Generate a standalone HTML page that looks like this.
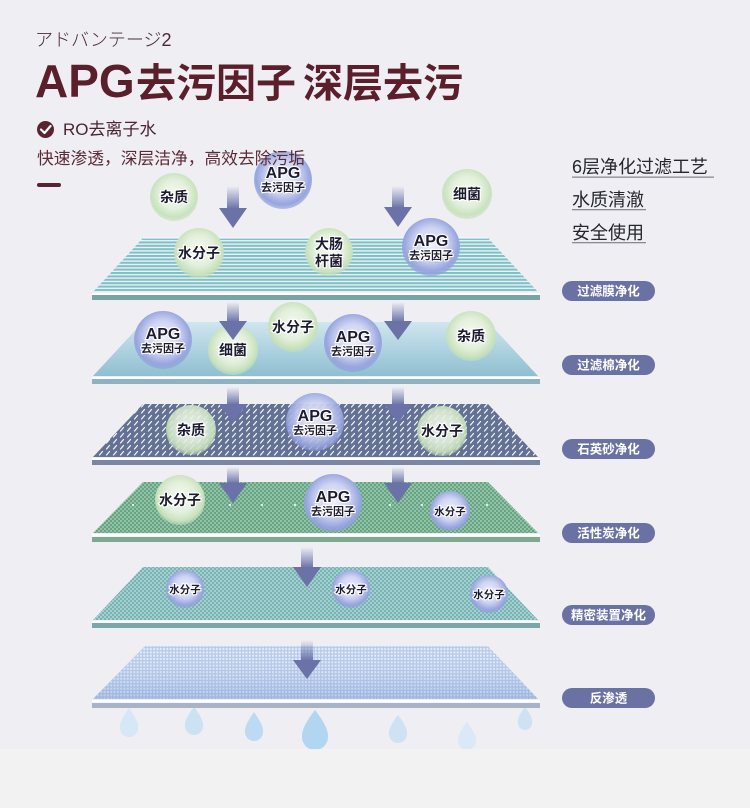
<!DOCTYPE html>
<html><head><meta charset="utf-8"><style>
html,body{margin:0;padding:0;background:#eeeef3;}
svg{display:block;}
</style></head><body>
<svg width="750" height="808" viewBox="0 0 750 808" xmlns="http://www.w3.org/2000/svg">
<defs>
<pattern id="p1" width="8" height="3.4" patternUnits="userSpaceOnUse" y="238"><rect width="8" height="3.4" fill="#e6f3f4"/><rect width="8" height="2" fill="#80bfc6"/></pattern>
<linearGradient id="g2" x1="0" y1="0" x2="0" y2="1"><stop offset="0" stop-color="#cfe6ee"/><stop offset="1" stop-color="#8fbfd1"/></linearGradient>
<pattern id="p3" width="7" height="6" patternUnits="userSpaceOnUse"><rect width="7" height="6" fill="#637194"/><line x1="1.5" y1="5" x2="4.5" y2="1.5" stroke="#f4f6fa" stroke-width="1.2" stroke-linecap="round"/></pattern>
<pattern id="p4" width="4" height="4" patternUnits="userSpaceOnUse"><rect width="4" height="4" fill="#68a383"/><rect width="2" height="2" fill="#90c2a6"/><rect x="2" y="2" width="2" height="2" fill="#90c2a6"/></pattern>
<pattern id="p5" width="4" height="4" patternUnits="userSpaceOnUse"><rect width="4" height="4" fill="#79b3b4"/><rect width="2" height="2" fill="#a3cfcf"/><rect x="2" y="2" width="2" height="2" fill="#a3cfcf"/></pattern>
<pattern id="p6" width="3.3" height="3.3" patternUnits="userSpaceOnUse"><rect width="3.3" height="3.3" fill="#e2ebf8"/><rect width="3.3" height="1.3" fill="#a9c0e6"/><rect width="1.3" height="3.3" fill="#a9c0e6"/></pattern>
<linearGradient id="sh6" x1="0" y1="0" x2="0" y2="1"><stop offset="0" stop-color="#ffffff" stop-opacity="0.15"/><stop offset="1" stop-color="#8aa4d8" stop-opacity="0.45"/></linearGradient>
<linearGradient id="sh" x1="0" y1="0" x2="0" y2="1"><stop offset="0" stop-color="#6a72a8" stop-opacity="0"/><stop offset="1" stop-color="#6a72a8" stop-opacity="1"/></linearGradient>
<radialGradient id="gG" cx="0.5" cy="0.45" r="0.55"><stop offset="0" stop-color="#f5faf1"/><stop offset="0.55" stop-color="#e3f0dc"/><stop offset="0.85" stop-color="#c9e2bd"/><stop offset="1" stop-color="#c4dfb8" stop-opacity="0.5"/></radialGradient>
<radialGradient id="gB" cx="0.5" cy="0.45" r="0.55"><stop offset="0" stop-color="#eff1fb"/><stop offset="0.5" stop-color="#cfd5f2"/><stop offset="0.85" stop-color="#97a5df"/><stop offset="1" stop-color="#8e9ddb" stop-opacity="0.6"/></radialGradient>
</defs>

<rect width="750" height="808" fill="#eeeef3"/>

<!-- droplets -->
<g>
<path d="M129 708 Q139 722 138 728 A9 9 0 1 1 120 728 Q119 722 129 708Z" fill="#d6e7f5"/>
<path d="M194 707 Q204 720 203 726 A9 9 0 1 1 185 726 Q184 720 194 707Z" fill="#cde1f4"/>
<path d="M254 712 Q264 726 263 732 A9 9 0 1 1 245 732 Q244 726 254 712Z" fill="#bcdaf3"/>
<path d="M315 710 Q329 728 328 737 A13 13 0 1 1 302 737 Q301 728 315 710Z" fill="#b2d5f2"/>
<path d="M398 715 Q408 728 407 734 A9 9 0 1 1 389 734 Q388 728 398 715Z" fill="#cfe2f4"/>
<path d="M467 722 Q477 735 476 741 A9 9 0 1 1 458 741 Q457 735 467 722Z" fill="#dbe8f5"/>
<path d="M525 707 Q533 717 532 723 A7 7 0 1 1 518 723 Q517 717 525 707Z" fill="#cfe2f4"/>
</g>
<rect x="0" y="749" width="750" height="59" fill="#f2f2f3"/>

<!-- layer 1 -->
<polygon points="143,238 488,238 538,292 93,292" fill="url(#p1)"/>
<line x1="143" y1="238" x2="488" y2="238" stroke="#fff" stroke-width="1"/>
<rect x="92" y="293" width="448" height="2" fill="#fff"/>
<rect x="92" y="295" width="448" height="5" fill="#7aa3a6"/>
<!-- layer 2 -->
<polygon points="143,322 488,322 538,376 93,376" fill="url(#g2)"/>
<rect x="92" y="377" width="448" height="2" fill="#fff"/>
<rect x="92" y="379" width="448" height="5" fill="#8eb2c2"/>
<!-- layer 3 -->
<polygon points="143,404 488,404 538,457 93,457" fill="url(#p3)"/>
<rect x="92" y="458" width="448" height="2" fill="#fff"/>
<rect x="92" y="460" width="448" height="5" fill="#7a86a6"/>
<!-- layer 4 -->
<polygon points="143,482 488,482 538,533 93,533" fill="url(#p4)"/>
<rect x="92" y="534" width="448" height="2.5" fill="#fff"/>
<rect x="92" y="537" width="448" height="5" fill="#7ea890"/>
<g fill="#fff"><circle cx="133" cy="505" r="1"/><circle cx="230" cy="505" r="1"/><circle cx="262" cy="505" r="1"/><circle cx="295" cy="505" r="1"/><circle cx="390" cy="505" r="1"/><circle cx="422" cy="505" r="1"/><circle cx="487" cy="505" r="1"/></g>
<!-- layer 5 -->
<polygon points="143,567 488,567 538,620 93,620" fill="url(#p5)"/>
<rect x="92" y="621" width="448" height="2" fill="#fff"/>
<rect x="92" y="623" width="448" height="5" fill="#7aa8aa"/>
<!-- layer 6 -->
<polygon points="145,646 488,646 538,699 93,699" fill="url(#p6)"/>
<polygon points="145,646 488,646 538,699 93,699" fill="url(#sh6)"/>
<rect x="92" y="700" width="448" height="2.5" fill="#fff"/>
<rect x="92" y="703" width="448" height="5" fill="#a6b4c6"/>

<!-- bubbles -->
<g font-family="'Liberation Sans','Noto Sans CJK SC',sans-serif" font-weight="bold" fill="#1c1c30" stroke="#ffffff" stroke-width="2.2" paint-order="stroke" text-anchor="middle">
<circle cx="174" cy="197" r="24" fill="url(#gG)" stroke="none"/><text x="174" y="202" font-size="14">杂质</text>
<circle cx="467" cy="194" r="25" fill="url(#gG)" stroke="none"/><text x="467" y="199" font-size="14">细菌</text>
<circle cx="199" cy="253" r="25" fill="url(#gG)" stroke="none"/><text x="199" y="258" font-size="14">水分子</text>
<circle cx="329" cy="252" r="24" fill="url(#gG)" stroke="none"/><text x="329" y="249" font-size="14">大肠</text><text x="329" y="266" font-size="14">杆菌</text>
<circle cx="233" cy="350" r="25" fill="url(#gG)" stroke="none"/><text x="233" y="355" font-size="14">细菌</text>
<circle cx="293" cy="327" r="25" fill="url(#gG)" stroke="none"/><text x="293" y="332" font-size="14">水分子</text>
<circle cx="471" cy="336" r="25" fill="url(#gG)" stroke="none"/><text x="471" y="341" font-size="14">杂质</text>
<circle cx="191" cy="430" r="25" fill="url(#gG)" stroke="none" opacity="0.9"/><text x="191" y="435" font-size="14">杂质</text>
<circle cx="442" cy="431" r="25" fill="url(#gG)" stroke="none" opacity="0.9"/><text x="442" y="436" font-size="14">水分子</text>
<circle cx="180" cy="500" r="25" fill="url(#gG)" stroke="none"/><text x="180" y="505" font-size="14">水分子</text>

<circle cx="283" cy="180" r="29" fill="url(#gB)" stroke="none"/><text x="283" y="178" font-size="16">APG</text><text x="283" y="191" font-size="11">去污因子</text>
<circle cx="431" cy="247" r="29" fill="url(#gB)" stroke="none"/><text x="431" y="246" font-size="16">APG</text><text x="431" y="259" font-size="11">去污因子</text>
<circle cx="163" cy="340" r="29" fill="url(#gB)" stroke="none"/><text x="163" y="339" font-size="16">APG</text><text x="163" y="352" font-size="11">去污因子</text>
<circle cx="353" cy="343" r="29" fill="url(#gB)" stroke="none"/><text x="353" y="342" font-size="16">APG</text><text x="353" y="355" font-size="11">去污因子</text>
<circle cx="315" cy="422" r="29" fill="url(#gB)" stroke="none" opacity="0.92"/><text x="315" y="421" font-size="16">APG</text><text x="315" y="434" font-size="11">去污因子</text>
<circle cx="333" cy="503" r="29" fill="url(#gB)" stroke="none"/><text x="333" y="502" font-size="16">APG</text><text x="333" y="515" font-size="11">去污因子</text>

<circle cx="450" cy="511" r="20" fill="url(#gB)" stroke="none"/><text x="450" y="515" font-size="10.5">水分子</text>
<circle cx="185" cy="589" r="19" fill="url(#gB)" stroke="none"/><text x="185" y="593" font-size="10.5">水分子</text>
<circle cx="351" cy="589" r="19" fill="url(#gB)" stroke="none"/><text x="351" y="593" font-size="10.5">水分子</text>
<circle cx="489" cy="594" r="19" fill="url(#gB)" stroke="none"/><text x="489" y="598" font-size="10.5">水分子</text>
</g>

<!-- arrows -->
<g fill="#6a72a8">
<rect x="227" y="186" width="12" height="23" fill="url(#sh)"/><polygon points="219,208 247,208 233,228"/>
<rect x="392" y="186" width="12" height="22" fill="url(#sh)"/><polygon points="384,207 412,207 398,227"/>
<rect x="227" y="302" width="12" height="20" fill="url(#sh)"/><polygon points="219,321 247,321 233,340"/>
<rect x="392" y="302" width="12" height="20" fill="url(#sh)"/><polygon points="384,321 412,321 398,340"/>
<rect x="227" y="387" width="12" height="18" fill="url(#sh)"/><polygon points="219,404 247,404 233,423"/>
<rect x="392" y="387" width="12" height="18" fill="url(#sh)"/><polygon points="384,404 412,404 398,423"/>
<rect x="227" y="467" width="12" height="17" fill="url(#sh)"/><polygon points="219,483 247,483 233,503"/>
<rect x="392" y="467" width="12" height="17" fill="url(#sh)"/><polygon points="384,483 412,483 398,503"/>
<rect x="301" y="547" width="12" height="21" fill="url(#sh)"/><polygon points="293,567 321,567 307,587"/>
<rect x="301" y="640" width="12" height="21" fill="url(#sh)"/><polygon points="293,660 321,660 307,679"/>
</g>

<!-- header -->
<g fill="#4b2631">
<text x="35" y="46" font-family="'Liberation Sans','Noto Sans CJK JP',sans-serif" font-size="18" font-weight="300" fill="#4a2a33">アドバンテージ2</text>
<text y="97" font-family="'Liberation Sans','Noto Sans CJK SC',sans-serif" font-weight="bold" fill="#5a1f2b"><tspan x="35" font-size="46">APG</tspan><tspan x="136" font-size="40">去污因子</tspan><tspan x="303" font-size="40">深层去污</tspan></text>
<circle cx="45.5" cy="129.5" r="8.5" fill="#5a2330"/>
<polyline points="41,129.5 44.5,133 50.5,126" fill="none" stroke="#fff" stroke-width="2.2" stroke-linecap="round" stroke-linejoin="round"/>
<text x="63" y="135" font-family="'Liberation Sans','Noto Sans CJK SC',sans-serif" font-size="17" fill="#4a2530">RO去离子水</text>
<text x="37" y="164" font-family="'Liberation Sans','Noto Sans CJK SC',sans-serif" font-size="16.5" fill="#5a2a35" textLength="268" lengthAdjust="spacingAndGlyphs">快速渗透，深层洁净，高效去除污垢</text>
<rect x="37" y="183" width="24" height="4" rx="2" fill="#5a2330"/>
</g>

<!-- right list -->
<g font-family="'Liberation Sans','Noto Sans CJK SC',sans-serif" font-size="18" fill="#25252d">
<text x="572" y="173">6层净化过滤工艺</text>
<rect x="572" y="176.5" width="142" height="1.3" fill="#8a8a94"/>
<text x="572" y="206">水质清澈</text>
<rect x="572" y="209" width="74" height="1.3" fill="#8a8a94"/>
<text x="572" y="239">安全使用</text>
<rect x="572" y="242" width="74" height="1.3" fill="#8a8a94"/>
</g>

<!-- badges -->
<g font-family="'Liberation Sans','Noto Sans CJK SC',sans-serif" font-size="12.5" font-weight="bold" fill="#fff" text-anchor="middle">
<rect x="562" y="281" width="93" height="20" rx="10" fill="#6a72a4"/><text x="608.5" y="295.5">过滤膜净化</text>
<rect x="562" y="355" width="93" height="20" rx="10" fill="#6a72a4"/><text x="608.5" y="369.5">过滤棉净化</text>
<rect x="562" y="439" width="93" height="20" rx="10" fill="#6a72a4"/><text x="608.5" y="453.5">石英砂净化</text>
<rect x="562" y="523" width="93" height="20" rx="10" fill="#6a72a4"/><text x="608.5" y="537.5">活性炭净化</text>
<rect x="562" y="605" width="93" height="20" rx="10" fill="#6a72a4"/><text x="608.5" y="619.5">精密装置净化</text>
<rect x="562" y="688" width="93" height="20" rx="10" fill="#6a72a4"/><text x="608.5" y="702.5">反渗透</text>
</g>
</svg>
</body></html>
